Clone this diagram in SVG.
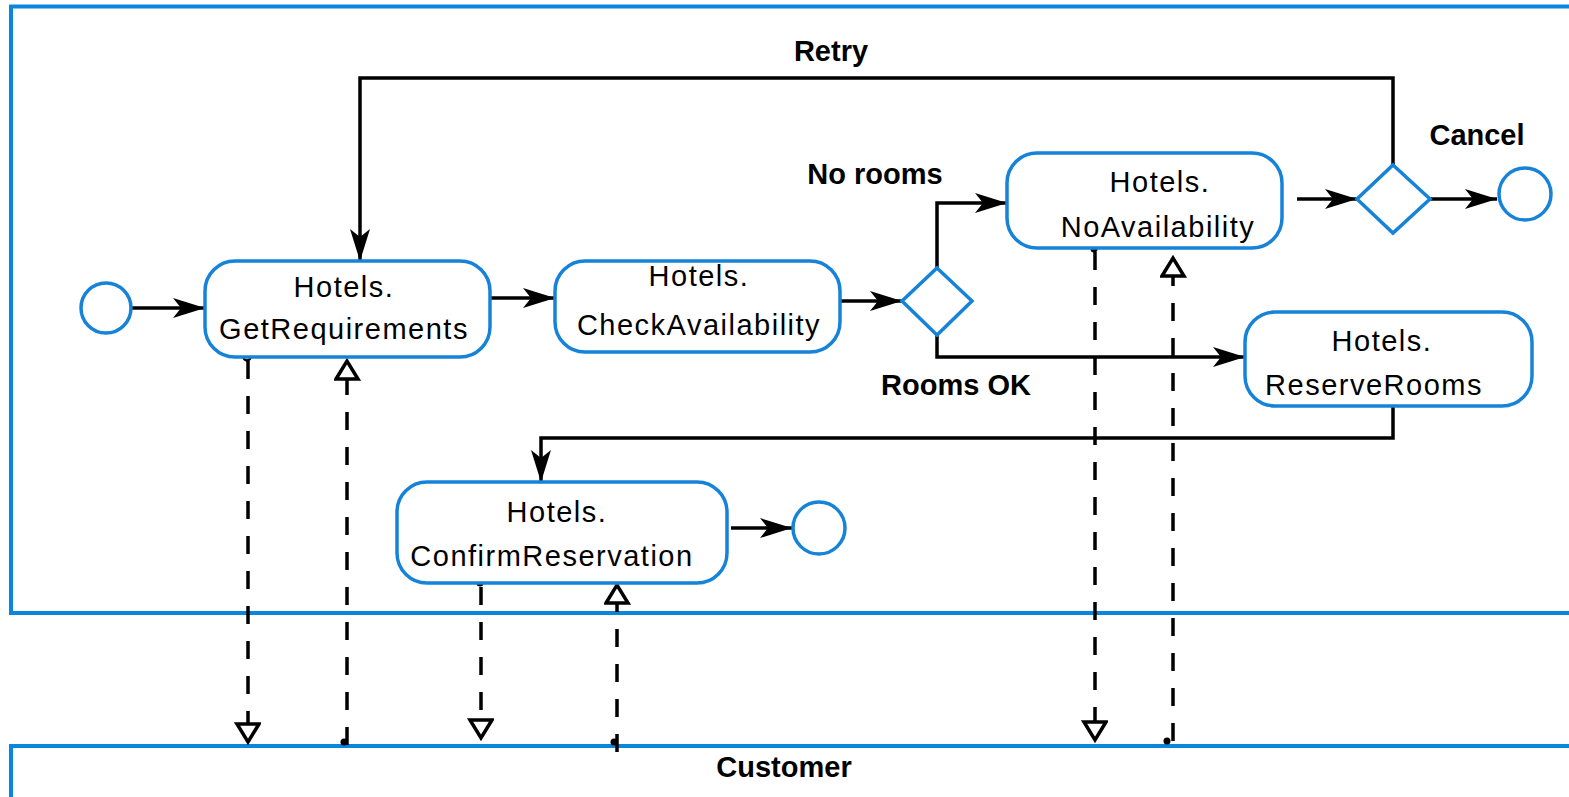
<svg xmlns="http://www.w3.org/2000/svg" width="1569" height="797" viewBox="0 0 1569 797">
<style>
.pool{fill:none;stroke:#0a87dc;stroke-width:4}
.task{fill:#fff;stroke:#1683d8;stroke-width:3.5}
.ev{fill:#fff;stroke:#1683d8;stroke-width:3.5}
.gw{fill:#fff;stroke:#1683d8;stroke-width:3.5}
.t{font-family:"Liberation Sans",Arial,sans-serif;font-size:29px;letter-spacing:1.5px;fill:#000;text-anchor:middle}
.lb{font-family:"Liberation Sans",Arial,sans-serif;font-size:29px;font-weight:bold;fill:#000;text-anchor:middle}
.seq{fill:none;stroke:#000;stroke-width:3.5;marker-end:url(#ah)}
.msg{fill:none;stroke:#000;stroke-width:3.5;stroke-dasharray:18 17;marker-end:url(#oh)}
</style>
<defs>
<marker id="ah" markerUnits="userSpaceOnUse" markerWidth="34" markerHeight="24" refX="32" refY="11" orient="auto">
<path d="M0,1 L32,11 L0,21 L8,11 z" fill="#000"/>
</marker>
<marker id="oh" markerUnits="userSpaceOnUse" markerWidth="26" markerHeight="30" refX="20" refY="13" orient="auto">
<path d="M2,2 L20,13 L2,24 z" fill="#fff" stroke="#000" stroke-width="3.5" stroke-linejoin="miter"/>
</marker>
</defs>
<rect width="1569" height="797" fill="#fff"/>
<g id="pool-hotels">
<path class="pool" d="M1575,6.5 L11,6.5 L11,613 L1575,613"/>
</g>
<g id="pool-customer">
<path class="pool" d="M1575,746 L11,746 L11,800"/>
<text class="lb" x="784" y="777">Customer</text>
</g>
<g id="connectors">
<path class="seq" d="M132,308 L205,308"/>
<path class="seq" d="M490,298 L555,298"/>
<path class="seq" d="M840,301 L902,301"/>
<path class="seq" d="M937,268 L937,203 L1007,203"/>
<path class="seq" d="M937,335 L937,357 L1245,357"/>
<path class="seq" d="M1297,199 L1357,199"/>
<path class="seq" d="M1430,199 L1497,199"/>
<path class="seq" d="M1393,165 L1393,78 L360,78 L360,261"/>
<path class="seq" d="M1393,406 L1393,438 L541,438 L541,482"/>
<path class="seq" d="M731,528 L792,528"/>
<path class="msg" d="M248,361 L248,742"/>
<path class="msg" d="M347,745 L347,361"/>
<path class="msg" d="M481,587 L481,738"/>
<path class="msg" d="M617,752 L617,585"/>
<path class="msg" d="M1095,252 L1095,740"/>
<path class="msg" d="M1173,741 L1173,258"/>
<circle cx="247" cy="357" r="3.5" fill="#fff" stroke="#000" stroke-width="2.5"/>
<circle cx="344" cy="742" r="3.5" fill="#000"/>
<circle cx="480" cy="583" r="3.5" fill="#000"/>
<circle cx="614" cy="742" r="3.5" fill="#000"/>
<circle cx="1094" cy="249" r="3.5" fill="#000"/>
<circle cx="1167" cy="741" r="3.5" fill="#000"/>
<text class="lb" x="831" y="61">Retry</text>
<text class="lb" x="875" y="184">No rooms</text>
<text class="lb" x="956" y="395">Rooms OK</text>
<text class="lb" x="1477" y="145">Cancel</text>
</g>
<g id="start"><circle class="ev" cx="106" cy="308" r="25"/></g>
<g id="getRequirements">
<rect class="task" x="205" y="261" width="285" height="96" rx="30"/>
<text class="t" x="344" y="297">Hotels.</text>
<text class="t" x="344" y="339">GetRequirements</text>
</g>
<g id="checkAvailability">
<rect class="task" x="555" y="261" width="285" height="91" rx="30"/>
<text class="t" x="699" y="286">Hotels.</text>
<text class="t" x="699" y="335">CheckAvailability</text>
</g>
<g id="gateway1"><path class="gw" d="M937,268 L972,301 L937,335 L902,301 z"/></g>
<g id="noAvailability">
<rect class="task" x="1007" y="153" width="275" height="95" rx="30"/>
<text class="t" x="1160" y="192">Hotels.</text>
<text class="t" x="1158" y="237">NoAvailability</text>
</g>
<g id="gateway2"><path class="gw" d="M1393,165 L1430,199 L1393,233 L1357,199 z"/></g>
<g id="endCancel"><circle class="ev" cx="1525" cy="194" r="26"/></g>
<g id="reserveRooms">
<rect class="task" x="1245" y="312" width="287" height="94" rx="30"/>
<text class="t" x="1382" y="351">Hotels.</text>
<text class="t" x="1374" y="395">ReserveRooms</text>
</g>
<g id="confirmReservation">
<rect class="task" x="397" y="482" width="330" height="101" rx="30"/>
<text class="t" x="557" y="522">Hotels.</text>
<text class="t" x="552" y="566">ConfirmReservation</text>
</g>
<g id="end"><circle class="ev" cx="819" cy="528" r="26"/></g>
</svg>
